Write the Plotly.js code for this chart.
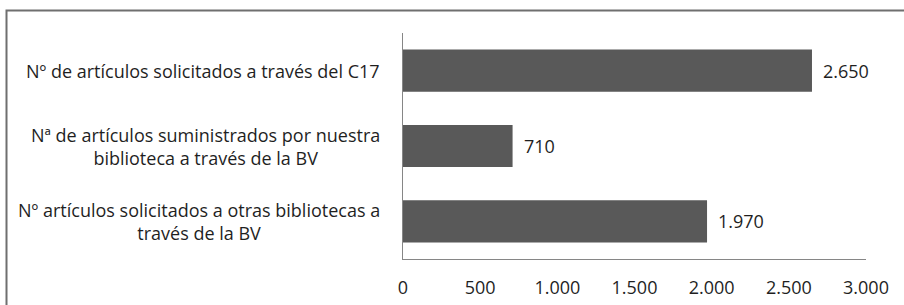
<!DOCTYPE html>
<html>
<head>
<meta charset="utf-8">
<script src="https://cdn.plot.ly/plotly-3.0.1.min.js"></script>
<style>html,body{margin:0;padding:0;background:#fff;}#chart{width:904px;height:305px;}</style>
</head>
<body>
<div id="chart"></div>
<script>
var categories = [
  "Nº de artículos solicitados a través del C17",
  "Nª de artículos suministrados por nuestra<br>biblioteca a través de la BV",
  "Nº artículos solicitados a otras bibliotecas a<br>través de la BV"
];
var values = [2650, 710, 1970];
var tickVals = [0, 500, 1000, 1500, 2000, 2500, 3000];
var tickText = ["0", "500", "1.000", "1.500", "2.000", "2.500", "3.000"];

function fmt(v) {
  return String(v).replace(/\B(?=(\d{3})+(?!\d))/g, ".");
}

var FONT = "'Open Sans', sans-serif";
var TXT = "#1f1f1f";
var FS = 18;

var trace = {
  type: "bar",
  orientation: "h",
  y: categories,
  x: values,
  marker: {color: "#595959", line: {width: 0}},
  hoverinfo: "none"
};

var annotations = [];
categories.forEach(function (c, i) {
  annotations.push({
    x: 0, xref: "paper", y: c, yref: "y",
    text: c, showarrow: false, xanchor: "right", align: "center",
    xshift: -21, font: {family: FONT, size: FS, color: TXT}
  });
  annotations.push({
    x: values[i], xref: "x", y: c, yref: "y",
    text: fmt(values[i]), showarrow: false, xanchor: "left",
    xshift: 9, font: {family: FONT, size: FS, color: TXT}
  });
});

var layout = {
  width: 904, height: 305,
  margin: {l: 403, r: 38, t: 33, b: 46},
  paper_bgcolor: "#fff", plot_bgcolor: "#fff",
  showlegend: false,
  bargap: 0.44,
  xaxis: {
    range: [0, 3000], tickvals: tickVals, ticktext: tickText,
    showgrid: false, zeroline: false, showline: true, linecolor: "#868686", linewidth: 1,
    ticks: "", ticklabelstandoff: 12,
    tickfont: {family: FONT, size: FS, color: TXT}
  },
  yaxis: {
    autorange: "reversed", showticklabels: false,
    showgrid: false, zeroline: false, showline: true, linecolor: "#868686", linewidth: 1,
    ticks: ""
  },
  annotations: annotations,
  shapes: [{
    type: "rect", xref: "paper", yref: "paper",
    x0: (6.5 - 403) / 463, x1: (912 - 403) / 463,
    y0: (259 - 312) / 226, y1: (259 - 10.5) / 226,
    line: {color: "#6f6f6f", width: 2}, fillcolor: "rgba(0,0,0,0)"
  }]
};

Plotly.newPlot("chart", [trace], layout, {staticPlot: true, displayModeBar: false});
</script>
</body>
</html>
